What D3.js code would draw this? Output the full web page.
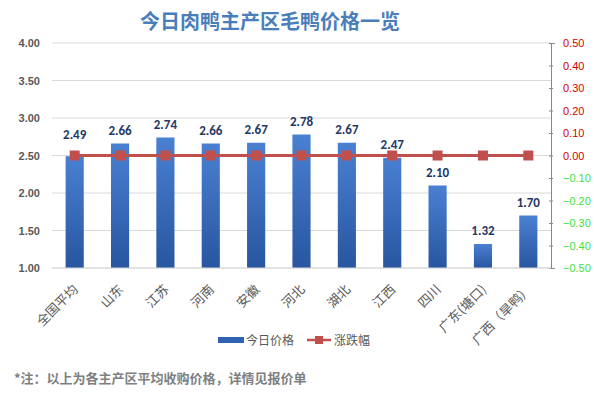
<!DOCTYPE html>
<html><head><meta charset="utf-8">
<script src="https://cdn.jsdelivr.net/npm/d3@7"></script>
<style>body{margin:0;background:#fff;}svg{display:block;}</style>
</head><body>
<svg id="c" width="594" height="393"></svg>
<script>
const categories = ["全国平均","山东","江苏","河南","安徽","河北","湖北","江西","四川","广东(塘口)","广西（旱鸭）"];
const prices = [2.49,2.66,2.74,2.66,2.67,2.78,2.67,2.47,2.10,1.32,1.70];
const changes = [0,0,0,0,0,0,0,0,0,0,0];
const leftTicks = [1.00,1.50,2.00,2.50,3.00,3.50,4.00];
const rightTicks = [-0.5,-0.4,-0.3,-0.2,-0.1,0,0.1,0.2,0.3,0.4,0.5];

const svg = d3.select("#c");
const font = "'Microsoft YaHei','Noto Sans CJK SC',sans-serif";
const L = 52, R = 551, T = 43, B = 268;

const defs = svg.append("defs");
const g = defs.append("linearGradient").attr("id","bg").attr("x1",0).attr("y1",0).attr("x2",0).attr("y2",1);
g.append("stop").attr("offset","0%").attr("stop-color","#4a80d2");
g.append("stop").attr("offset","100%").attr("stop-color","#2856a0");

const x = d3.scaleBand().domain(categories).range([L, R]).paddingInner(0.6).paddingOuter(0.3);
const y = d3.scaleLinear().domain([1,4]).range([B,T]);
const y2 = d3.scaleLinear().domain([-0.5,0.5]).range([B,T]);

// title
svg.append("text").attr("x",270).attr("y",29).attr("text-anchor","middle")
  .attr("font-family",font).attr("font-weight","bold").attr("font-size",20)
  .attr("fill","#4a7ebb").text("今日肉鸭主产区毛鸭价格一览");

// gridlines
svg.append("g").selectAll("line").data(leftTicks).join("line")
  .attr("x1",L).attr("x2",R).attr("y1",d=>y(d)).attr("y2",d=>y(d))
  .attr("stroke","#d9d9d9").attr("stroke-width",1);

// left axis labels
const la = svg.append("g").attr("transform",`translate(${L},0)`)
  .call(d3.axisLeft(y).tickValues(leftTicks).tickFormat(d3.format(".2f")).tickSize(0).tickPadding(12));
la.select(".domain").remove();
la.selectAll("text").attr("font-family","Arial, 'Liberation Sans', sans-serif").attr("font-weight","bold").attr("font-size",11).attr("fill","#595959");

// right axis
const ra = svg.append("g").attr("transform",`translate(${R},0)`)
  .call(d3.axisRight(y2).tickValues(rightTicks).tickFormat(d3.format(".2f")).tickSize(4).tickPadding(8));
ra.select(".domain").attr("stroke","#868686");
ra.selectAll(".tick line").attr("stroke","#868686").attr("transform","translate(-2,0)");
ra.selectAll("text").attr("font-family","Arial, 'Liberation Sans', sans-serif").attr("font-size",11)
  .attr("fill",d=>d<0?"#3ee03e":"#d40000");

// bars
svg.append("g").selectAll("rect").data(categories).join("rect")
  .attr("x",d=>x(d)).attr("width",x.bandwidth())
  .attr("y",(d,i)=>y(prices[i])).attr("height",(d,i)=>B-y(prices[i]))
  .attr("fill","url(#bg)");

// bottom axis
svg.append("line").attr("x1",L).attr("x2",R).attr("y1",B).attr("y2",B).attr("stroke","#d9d9d9");

// value labels (first one lifted clear of the line marker, as in the original)
svg.append("g").selectAll("text").data(categories).join("text")
  .attr("x",d=>x(d)+x.bandwidth()/2).attr("y",(d,i)=>y(prices[i])-(i===0?17:9))
  .attr("text-anchor","middle").attr("font-family","Calibri, Carlito, Arial, sans-serif")
  .attr("font-weight","bold").attr("font-size",13).attr("fill","#1f3864")
  .text((d,i)=>prices[i].toFixed(2));

// line
const line = d3.line().x((d,i)=>x(categories[i])+x.bandwidth()/2).y(d=>y2(d));
svg.append("path").datum(changes).attr("d",line).attr("fill","none")
  .attr("stroke","#c0504d").attr("stroke-width",3);
svg.append("g").selectAll("rect").data(changes).join("rect")
  .attr("x",(d,i)=>x(categories[i])+x.bandwidth()/2-5).attr("y",d=>y2(d)-5)
  .attr("width",10).attr("height",10).attr("fill","#c0504d");

// x labels
svg.append("g").selectAll("text").data(categories).join("text")
  .attr("transform",d=>`translate(${x(d)+x.bandwidth()/2+1},${B+19}) rotate(-45)`)
  .attr("text-anchor","end").attr("dy","0.35em")
  .attr("font-family",font).attr("font-size",13).attr("fill","#595959")
  .text(d=>d);

// legend
const lg = svg.append("g");
lg.append("rect").attr("x",218).attr("y",337).attr("width",26).attr("height",6).attr("fill","#2f62b0");
lg.append("text").attr("x",246).attr("y",345).attr("font-family",font).attr("font-size",12).attr("fill","#595959").text("今日价格");
lg.append("line").attr("x1",307).attr("x2",331).attr("y1",340).attr("y2",340).attr("stroke","#c0504d").attr("stroke-width",2.5);
lg.append("rect").attr("x",315).attr("y",336).attr("width",8).attr("height",8).attr("fill","#c0504d");
lg.append("text").attr("x",334).attr("y",345).attr("font-family",font).attr("font-size",12).attr("fill","#595959").text("涨跌幅");

// footnote
svg.append("text").attr("x",14).attr("y",383).attr("font-family",font).attr("font-weight","bold")
  .attr("font-size",13).attr("fill","#7f7f7f").text("*注：以上为各主产区平均收购价格，详情见报价单");
</script>
</body></html>
